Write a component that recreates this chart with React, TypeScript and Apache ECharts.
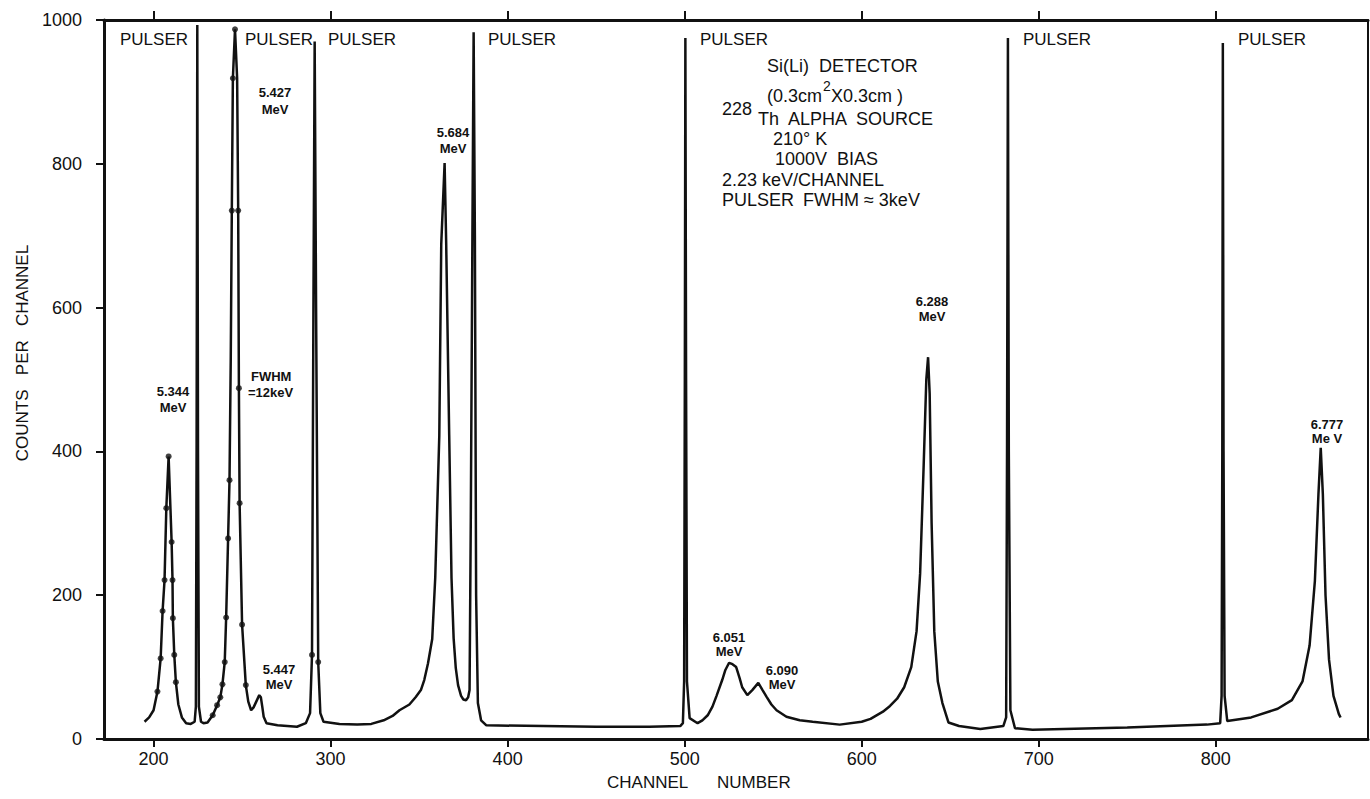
import React, { useEffect, useRef } from "react";
import * as echarts from "echarts";

// Spectrum trace: channel number and counts per channel
const channels = [
  194.9, 197.5, 200.0, 202.2, 204.0, 205.1, 206.2, 207.2, 208.5, 210.2, 210.7, 210.9, 211.7, 212.6,
  214.0, 216.0, 218.4, 221.0, 223.2, 223.9, 224.3, 224.7, 225.1, 225.6, 226.8, 228.2, 230.5,
  233.4, 235.9, 237.7, 238.9, 240.2, 241.0, 242.1, 242.9, 243.6, 244.2, 244.8, 246.0, 247.2,
  247.8, 248.2, 248.6, 250.0, 252.1, 253.5, 255.1, 256.5, 258.2, 259.7, 260.6, 261.4, 262.2,
  263.8, 270.0, 281.0, 286.0, 288.4, 289.5, 290.3, 291.0, 291.8, 293.0, 294.2, 296.0, 305.0,
  315.0, 323.0, 330.0, 335.0, 338.9, 344.5, 348.0, 351.0, 352.9, 355.0, 357.4, 359.1, 361.4,
  362.5, 364.4, 365.3, 367.0, 368.3, 369.5, 370.7, 372.0, 373.7, 375.0, 376.5, 377.7, 378.5,
  379.2, 380.1, 380.8, 381.5, 382.2, 383.2, 385.0, 388.0, 420.0, 450.0, 480.0, 497.5, 499.0,
  499.7, 500.1, 500.4, 500.8, 501.3, 502.8, 507.3, 510.0, 513.0, 515.7, 518.0, 521.2, 523.0,
  525.1, 527.0, 529.1, 531.0, 532.5, 535.4, 538.2, 541.6, 544.0, 546.2, 549.0, 551.9, 557.5,
  565.0, 572.3, 587.6, 600.0, 605.0, 612.0, 616.0, 620.0, 624.0, 628.0, 631.0, 633.0, 635.0,
  636.5, 637.5, 638.4, 639.5, 641.0, 643.0, 645.6, 649.0, 655.0, 667.0, 680.0, 681.6, 682.1,
  682.6, 683.1, 684.0, 686.6, 696.5, 750.0, 795.0, 802.5, 803.3, 803.7, 804.0, 804.4, 805.0,
  806.5, 820.0, 835.0, 843.0, 849.0, 853.0, 856.0, 858.0, 859.3, 860.5, 862.0, 864.0, 866.5,
  869.5, 870.5,
];
const counts = [
  24, 30, 40, 66, 112, 178, 221, 321, 393, 274, 221, 168, 117, 79,
  48, 30, 22, 21, 24, 45, 400, 993, 400, 45, 24, 22, 23,
  33, 47, 58, 76, 107, 169, 279, 360, 530, 735, 919, 987, 919,
  735, 488, 328, 159, 75, 52, 40, 44, 53, 61, 58, 45, 31,
  22, 19, 17, 22, 36, 117, 600, 970, 600, 107, 36, 24, 21,
  20, 21, 26, 32, 40, 48, 58, 68, 82, 105, 139, 224, 422,
  688, 801, 688, 422, 224, 140, 99, 75, 60, 55, 54, 58, 68,
  309, 700, 983, 700, 200, 50, 26, 19, 18, 17, 17, 18, 22,
  80, 500, 975, 500, 80, 29, 22, 26, 33, 45, 60, 82, 96,
  106, 104, 100, 85, 72, 61, 68, 78, 68, 59, 48, 40, 31,
  26, 24, 20, 24, 28, 38, 46, 56, 72, 100, 150, 230, 380,
  500, 531, 480, 300, 150, 80, 50, 23, 18, 14, 18, 30, 400,
  975, 400, 40, 15, 13, 16, 20, 22, 60, 400, 968, 400, 60,
  25, 30, 42, 54, 80, 130, 220, 340, 405, 340, 200, 110, 60,
  35, 30,
];

// Plotted data points (dots) on the 5.344 / 5.427 MeV peaks and a pulser
const dotChannels = [
  202.2, 204.0, 205.1, 206.2, 207.2, 208.5, 210.2, 210.7, 210.9, 211.7, 212.6,
  233.4, 235.9, 237.7, 238.9, 240.2, 241.0, 242.1, 242.9, 244.2, 244.8, 246.0, 247.8, 248.2,
  248.6, 250.0, 252.1, 289.5, 293.0,
];
const dotCounts = [
  66, 112, 178, 221, 321, 393, 274, 221, 168, 117, 79,
  33, 47, 58, 76, 107, 169, 279, 360, 735, 919, 987, 735, 488,
  328, 159, 75, 117, 107,
];

const xTickValues = [200, 300, 400, 500, 600, 700, 800];
const xMin = 172;
const xMax = 886;
const yMin = 0;
const yMax = 1000;
const yStep = 200;

const pulserLabels = ["PULSER", "PULSER", "PULSER", "PULSER", "PULSER", "PULSER", "PULSER"];
const peakLabels = ["5.344", "5.427", "5.447", "5.684", "6.051", "6.090", "6.288", "6.777"];

const FONT = "'Liberation Sans', Arial, sans-serif";

export default function App() {
  const ref = useRef<HTMLDivElement>(null);

  useEffect(() => {
    if (!ref.current) return;
    const chart = echarts.init(ref.current, undefined, { renderer: "svg" });

    const lineData = channels.map((c, i) => [c, counts[i]]);
    const dotData = dotChannels.map((c, i) => [c, dotCounts[i]]);

    const txt = (text: string, x: number, y: number, size: number, opts: any = {}) => ({
      type: "text",
      x,
      y,
      rotation: opts.rotation || 0,
      style: {
        text,
        fill: "#111",
        font: `${opts.weight || "normal"} ${size}px ${FONT}`,
        textAlign: opts.align || "left",
        textVerticalAlign: "middle",
      },
    });

    const pulserX = [120, 245, 328, 488, 700, 1023, 1238];
    const peakPos: [number, number, number][] = [
      [173, 391, 407],
      [275, 92, 109],
      [279, 669, 684],
      [453, 132, 148],
      [729, 637, 651],
      [782, 670, 684],
      [932, 301, 316],
      [1327, 424, 438],
    ];

    const graphics: any[] = [];
    pulserLabels.forEach((t, i) => graphics.push(txt(t, pulserX[i], 39, 17)));
    peakLabels.forEach((t, i) => {
      const [cx, y1, y2] = peakPos[i];
      graphics.push(txt(t, cx, y1, 13, { weight: "bold", align: "center" }));
      graphics.push(txt(i === 7 ? "Me V" : "MeV", cx, y2, 13, { weight: "bold", align: "center" }));
    });
    graphics.push(txt("FWHM", 251, 376, 13, { weight: "bold" }));
    graphics.push(txt("=12keV", 248, 392, 13, { weight: "bold" }));

    // info block
    graphics.push(txt("Si(Li)  DETECTOR", 767, 66, 18));
    graphics.push(txt("(0.3cm", 767, 96, 18));
    graphics.push(txt("2", 823, 86, 14));
    graphics.push(txt("X0.3cm )", 831, 96, 18));
    graphics.push(txt("228", 722, 109, 18));
    graphics.push(txt("Th  ALPHA  SOURCE", 758, 119, 18));
    graphics.push(txt("210° K", 773, 139, 18));
    graphics.push(txt("1000V  BIAS", 775, 159, 18));
    graphics.push(txt("2.23 keV/CHANNEL", 722, 180, 18));
    graphics.push(txt("PULSER", 722, 200, 18));
    graphics.push(txt("FWHM ≈ 3keV", 803, 200, 18));

    // axis titles
    graphics.push(txt("CHANNEL", 607, 782, 17));
    graphics.push(txt("NUMBER", 717, 782, 17));
    graphics.push(txt("COUNTS   PER   CHANNEL", 22, 353, 17, { rotation: Math.PI / 2, align: "center" }));

    const axisLbl = { color: "#111", fontSize: 18, fontFamily: FONT };

    chart.setOption({
      animation: false,
      backgroundColor: "#ffffff",
      grid: { left: 104, right: 2, top: 20, bottom: 60 },
      xAxis: [
        {
          type: "value",
          min: xMin,
          max: xMax,
          position: "bottom",
          axisLine: { show: true, onZero: false, lineStyle: { color: "#111", width: 3 } },
          axisTick: { show: true, inside: false, length: 8, lineStyle: { color: "#111", width: 2 }, customValues: xTickValues },
          axisLabel: { ...axisLbl, margin: 11, customValues: xTickValues, formatter: (v: number) => String(v) },
          splitLine: { show: false },
        },
        {
          type: "value",
          min: xMin,
          max: xMax,
          position: "top",
          axisLine: { show: true, onZero: false, lineStyle: { color: "#111", width: 3 } },
          axisTick: { show: true, inside: false, length: 9, lineStyle: { color: "#111", width: 2 }, customValues: xTickValues },
          axisLabel: { show: false },
          splitLine: { show: false },
        },
      ],
      yAxis: [
        {
          type: "value",
          min: yMin,
          max: yMax,
          interval: yStep,
          position: "left",
          axisLine: { show: true, onZero: false, lineStyle: { color: "#111", width: 3 } },
          axisTick: { show: true, inside: false, length: 8, lineStyle: { color: "#111", width: 2 } },
          axisLabel: { ...axisLbl, margin: 22, formatter: (v: number) => String(v) },
          splitLine: { show: false },
        },
        {
          type: "value",
          min: yMin,
          max: yMax,
          interval: yStep,
          position: "right",
          axisLine: { show: true, onZero: false, lineStyle: { color: "#111", width: 2 } },
          axisTick: { show: false },
          axisLabel: { show: false },
          splitLine: { show: false },
        },
      ],
      series: [
        {
          type: "line",
          data: lineData,
          showSymbol: false,
          smooth: false,
          lineStyle: { color: "#111", width: 2.5 },
          z: 3,
        },
        {
          type: "scatter",
          data: dotData,
          symbol: "circle",
          symbolSize: 6,
          itemStyle: { color: "#111" },
          z: 4,
        },
      ],
      graphic: graphics,
    });

    return () => chart.dispose();
  }, []);

  return (
    <div
      ref={ref}
      style={{ position: "absolute", left: 0, top: 0, width: 1370, height: 799, background: "#fff" }}
    />
  );
}
